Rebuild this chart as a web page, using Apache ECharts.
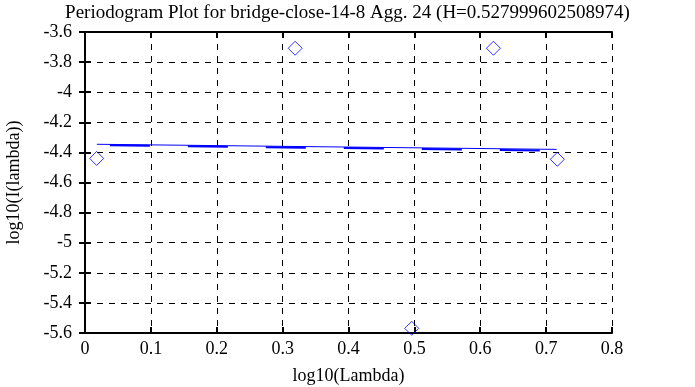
<!DOCTYPE html>
<html><head><meta charset="utf-8">
<script src="https://cdn.jsdelivr.net/npm/echarts@6/dist/echarts.min.js"></script>
<style>html,body{margin:0;padding:0;background:#fff}#c{width:695px;height:387px}</style>
</head><body><div id="c"></div>
<script>
const pointsX = [0.0177, 0.319, 0.496, 0.620, 0.717];
const pointsY = [-4.44, -3.708, -5.569, -3.708, -4.446];
const fitX = [0.018, 0.716];
const fitY = [-4.346, -4.38];
const fitY2 = [-4.352, -4.388];
const xTicks = [0, 0.1, 0.2, 0.3, 0.4, 0.5, 0.6, 0.7, 0.8];
const yTicks = [-5.6, -5.4, -5.2, -5, -4.8, -4.6, -4.4, -4.2, -4, -3.8, -3.6];

const font = 'Liberation Serif';
const fs = 18;
const chart = echarts.init(document.getElementById('c'));
const fmt = v => String(Math.round(v * 10) / 10);
chart.setOption({
  animation: false,
  title: { text: 'Periodogram Plot for bridge-close-14-8 Agg. 24 (H=0.527999602508974)', left: 'center', top: -1,
    textStyle: { fontFamily: font, fontSize: 19, fontWeight: 'normal', color: '#000' } },
  grid: { left: 85, right: 83, top: 32, bottom: 54, containLabel: false, outerBoundsMode: 'none' },
  xAxis: [{ type: 'value', min: 0, max: 0.8, interval: 0.1,
    name: 'log10(Lambda)', nameLocation: 'middle', nameGap: 34,
    nameTextStyle: { fontFamily: font, fontSize: fs, color: '#000' },
    axisLine: { show: true, lineStyle: { color: '#000', width: 2 } },
    axisTick: { show: true, inside: true, length: 6, lineStyle: { color: '#000', width: 2 } },
    axisLabel: { fontFamily: font, fontSize: fs, color: '#000', margin: 7, formatter: fmt },
    splitLine: { show: true, lineStyle: { color: '#000', width: 1, type: [6, 6] } } },
    { type: 'value', position: 'top', min: 0, max: 0.8, interval: 0.1,
    axisLine: { show: true, lineStyle: { color: '#000', width: 2 } },
    axisTick: { show: true, inside: true, length: 6, lineStyle: { color: '#000', width: 2 } },
    axisLabel: { show: false }, splitLine: { show: false } }],
  yAxis: [{ type: 'value', min: -5.6, max: -3.6, interval: 0.2,
    name: 'log10(I(lambda))', nameLocation: 'middle', nameGap: 62, nameRotate: 90,
    nameTextStyle: { fontFamily: font, fontSize: fs, color: '#000' },
    axisLine: { show: true, lineStyle: { color: '#000', width: 2 } },
    axisTick: { show: true, inside: true, length: 6, lineStyle: { color: '#000', width: 2 } },
    axisLabel: { fontFamily: font, fontSize: fs, color: '#000', margin: 13, formatter: fmt },
    splitLine: { show: true, lineStyle: { color: '#000', width: 1, type: [6, 6] } } },
    { type: 'value', position: 'right', min: -5.6, max: -3.6, interval: 0.2,
    axisLine: { show: true, lineStyle: { color: '#000', width: 2 } },
    axisTick: { show: true, inside: true, length: 6, lineStyle: { color: '#000', width: 2 } },
    axisLabel: { show: false }, splitLine: { show: false } }],
  series: [
    { type: 'line', data: fitX.map((x, i) => [x, fitY[i]]), symbol: 'none',
      lineStyle: { color: '#0000ff', width: 1 } },
    { type: 'line', data: fitX.map((x, i) => [x, fitY2[i]]), symbol: 'none',
      lineStyle: { color: '#0000ff', width: 2, type: [40, 38], dashOffset: 65 } },
    { type: 'scatter', data: pointsX.map((x, i) => [x, pointsY[i]]), symbol: 'diamond', symbolSize: 14,
      itemStyle: { color: 'rgba(0,0,0,0)', borderColor: '#0000ff', borderWidth: 1 } }
  ]
});
</script></body></html>
